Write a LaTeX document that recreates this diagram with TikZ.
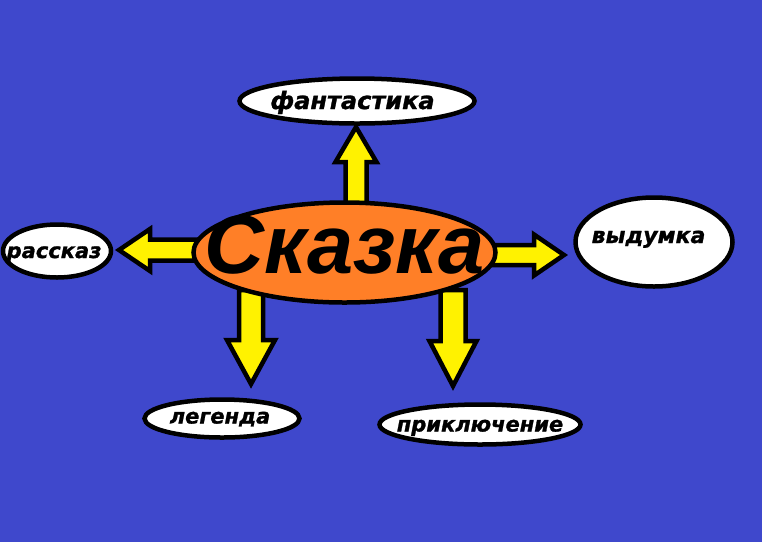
\documentclass[tikz,border=0pt]{standalone}
\usepackage{fontspec}
\setmainfont{DejaVu Sans}[BoldItalicFeatures={FakeBold=1.2}]
\newfontfamily\bigfont{Liberation Sans}
\usetikzlibrary{shapes.geometric,calc}
\definecolor{bgblue}{RGB}{63,72,204}
\definecolor{orng}{RGB}{255,127,39}
\definecolor{yel}{RGB}{255,242,0}
\pgfdeclarelayer{bg}
\pgfdeclarelayer{arr}
\pgfsetlayers{bg,arr,main}
\newcommand\ctext[2][0pt]{\smash{\makebox[0pt]{\raisebox{#1}{#2}}}}
\tikzset{
  lbl/.style={ellipse, draw=black, line width=4.5pt, fill=white, inner sep=0pt,
    font=\fontsize{21}{24}\selectfont\bfseries\itshape},
  mainnode/.style={ellipse, draw=black, line width=4.5pt, fill=orng, inner sep=0pt,
    font=\bigfont\fontsize{83}{86}\selectfont\bfseries\itshape},
  barrowstyle/.style={draw=black, fill=yel, line width=4.5pt, line join=miter},
}
\newcommand\blockarr[5]{%
  \coordinate (hb) at ($(#2)!#5!(#1)$);
  \draw[barrowstyle] ($(#1)!#3!90:(#2)$) -- ($(hb)!#3!90:(#2)$) -- ($(hb)!#4!90:(#2)$)
    -- (#2) -- ($(hb)!#4!-90:(#2)$) -- ($(hb)!#3!-90:(#2)$) -- ($(#1)!#3!-90:(#2)$) -- cycle;
}
\begin{document}
\begin{tikzpicture}[x=1pt,y=1pt]
\useasboundingbox (0,0) rectangle (762,-542);
\begin{pgfonlayer}{bg}
  \fill[bgblue] (0,0) rectangle (762,-542);
\end{pgfonlayer}

\node[mainnode, minimum width=302pt, minimum height=100pt] (skazka) at (344.5,-252.5) {\ctext[-20.5pt]{Сказка}};

\node[lbl, minimum width=235pt, minimum height=45pt, font=\fontsize{24}{27}\selectfont\bfseries\itshape] (fant) at (357,-101) {\ctext[-8pt]{фантастика\kern9pt}};
\node[lbl, minimum width=108pt, minimum height=53pt] (rass) at (57,-251) {\ctext[-7pt]{рассказ\kern6pt}};
\node[lbl, minimum width=157pt, minimum height=89pt, font=\fontsize{22}{25}\selectfont\bfseries\itshape] (vyd) at (654,-242) {\ctext[-1pt]{выдумка\kern11pt}};
\node[lbl, minimum width=155pt, minimum height=38pt] (leg) at (222,-418.5) {\ctext[-5pt]{легенда\kern4pt}};
\node[lbl, minimum width=201pt, minimum height=40pt] (prik) at (480,-424.5) {\ctext[-7pt]{приключение}};

\coordinate (tUp)  at (356,-210);  \coordinate (pUp)  at (356,-127);
\coordinate (tL)   at (200,-250);  \coordinate (pL)   at (119,-250);
\coordinate (tR)   at (488,-255);  \coordinate (pR)   at (564,-255);
\coordinate (tDL)  at (251,-290);  \coordinate (pDL)  at (251,-384);
\coordinate (tDR)  at (453,-290);  \coordinate (pDR)  at (453,-386);

\begin{pgfonlayer}{arr}
  \blockarr{tUp}{pUp}{10.5pt}{20.5pt}{35pt}
  \blockarr{tL}{pL}{10.5pt}{21pt}{31pt}
  \blockarr{tR}{pR}{10pt}{20.5pt}{30pt}
  \blockarr{tDL}{pDL}{12pt}{24pt}{44pt}
  \blockarr{tDR}{pDR}{12.5pt}{23.5pt}{45pt}
\end{pgfonlayer}
\end{tikzpicture}
\end{document}
